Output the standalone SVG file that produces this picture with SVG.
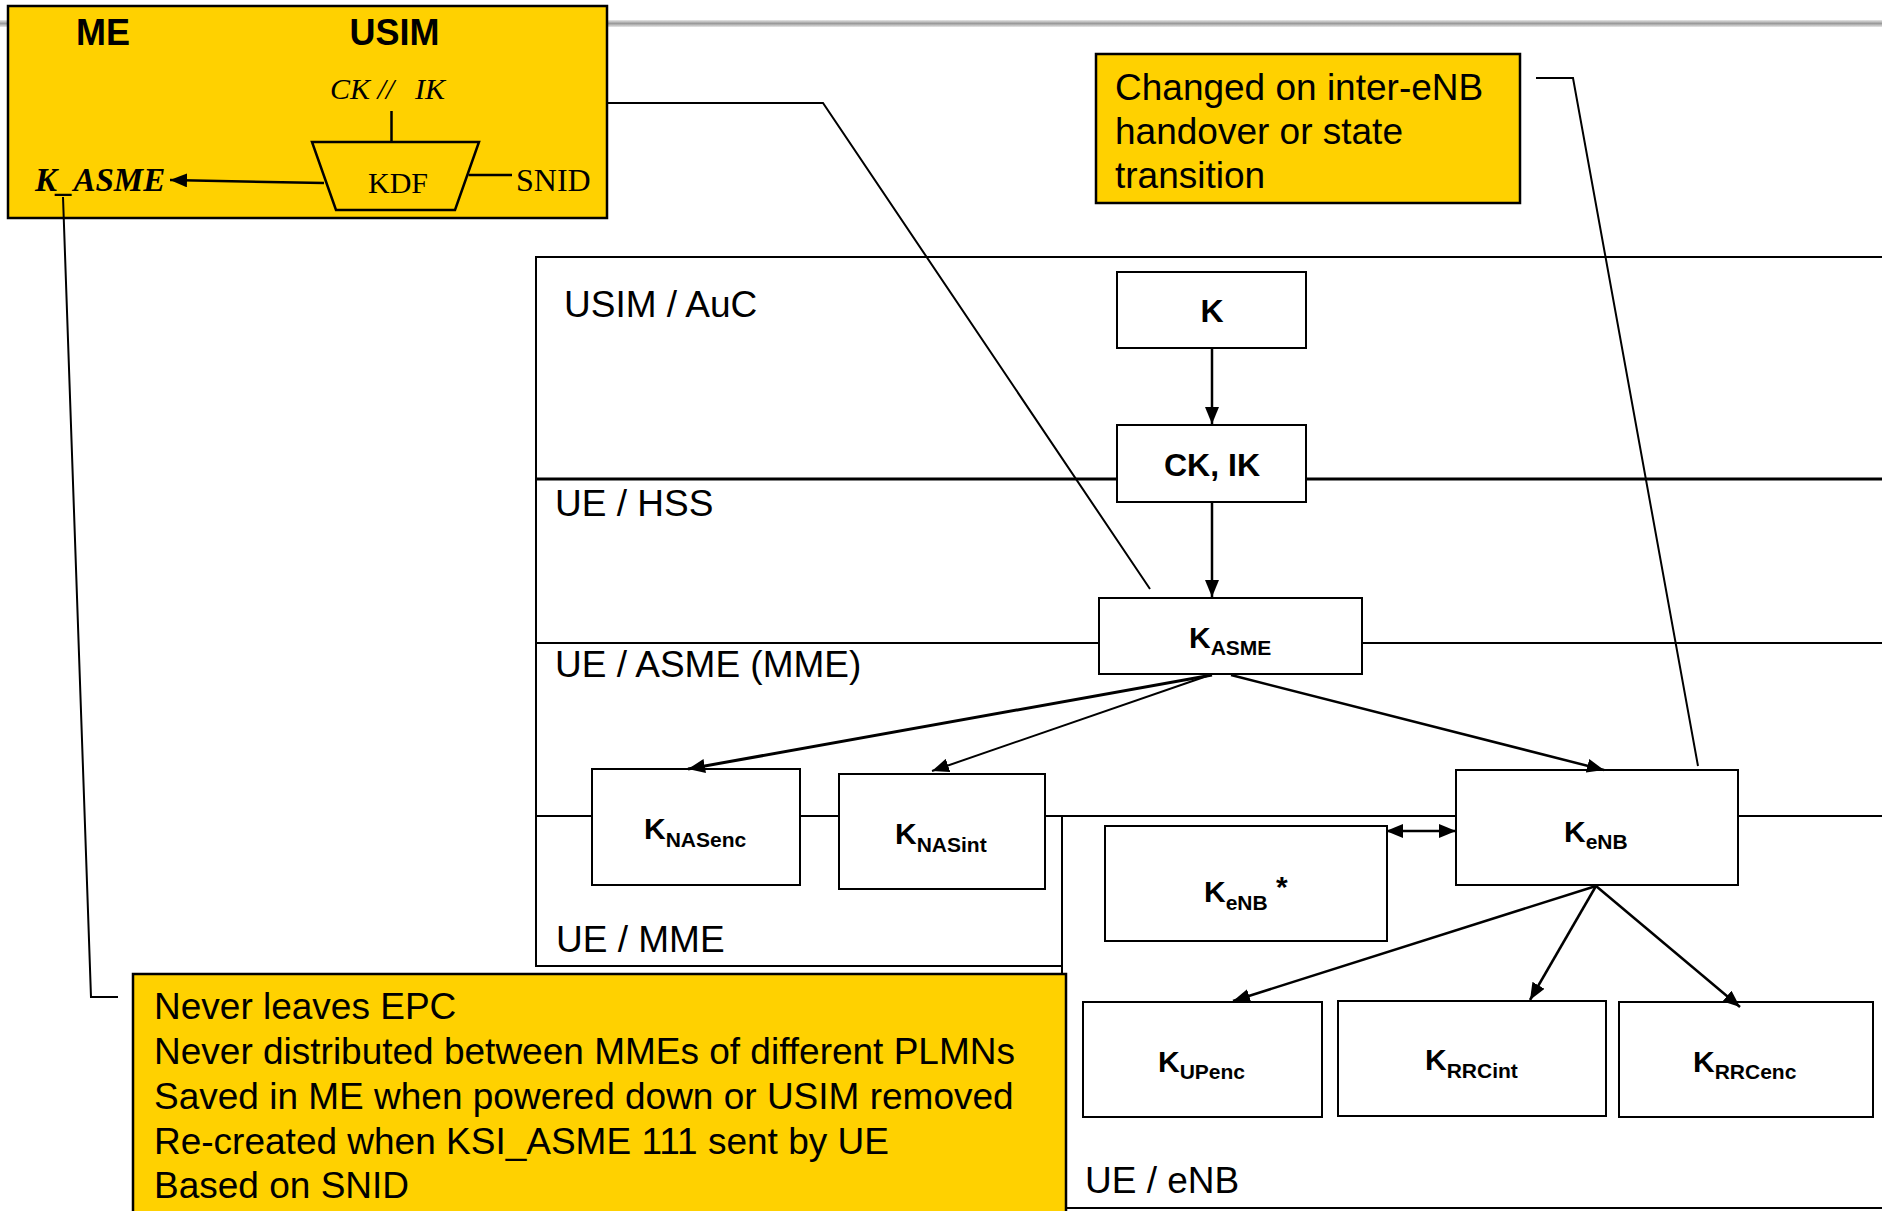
<svg xmlns="http://www.w3.org/2000/svg" width="1882" height="1211" viewBox="0 0 1882 1211">
  <defs>
    <linearGradient id="rule" x1="0" y1="0" x2="0" y2="1">
      <stop offset="0" stop-color="#e6e6e6"/>
      <stop offset="0.5" stop-color="#9a9a9a"/>
      <stop offset="1" stop-color="#e6e6e6"/>
    </linearGradient>
    <marker id="arrow" markerUnits="userSpaceOnUse" markerWidth="17" markerHeight="14" refX="17" refY="7" orient="auto-start-reverse">
      <path d="M0,0 L17,7 L0,14 z" fill="#000"/>
    </marker>
  </defs>
  <style>
    .lane { stroke: #000; stroke-width: 2; fill: none; }
    .lane-thick { stroke: #000; stroke-width: 3; fill: none; }
    .box { fill: #fff; stroke: #000; stroke-width: 2; }
    .note { fill: #FFD100; stroke: #000; stroke-width: 2.5; }
    .edge { stroke: #000; stroke-width: 2.5; fill: none; }
    .edge-heavy { stroke-width: 3; }
    .edge-light { stroke-width: 2; }
    .leader { stroke: #000; stroke-width: 2; fill: none; }
    .lanetxt { font-family: "Liberation Sans", Arial, sans-serif; font-size: 37px; fill: #000; }
    .notetxt { font-family: "Liberation Sans", Arial, sans-serif; font-size: 37px; fill: #000; }
    .key { font-family: "Liberation Sans", Arial, sans-serif; font-size: 30px; font-weight: bold; fill: #000; }
    .key-lg { font-size: 32px; }
    .sub { font-size: 21px; }
    .hdr { font-family: "Liberation Sans", Arial, sans-serif; font-size: 36px; font-weight: bold; fill: #000; }
    .serif { font-family: "Liberation Serif", "Times New Roman", serif; font-size: 30px; fill: #000; }
    .serif-lg { font-size: 32px; }
    .formula { font-size: 33px; font-weight: bold; font-style: italic; }
  </style>

  <rect width="1882" height="1211" fill="#fff"/>
  <!-- page rule -->
  <rect x="0" y="20" width="1882" height="7" fill="url(#rule)"/>

  <!-- key hierarchy lanes -->
  <g id="lanes">
    <path class="lane" d="M1882,257 H536 V966 H1062"/>
    <path class="lane-thick" d="M536,479 H1118 M1306,479 H1882"/>
    <path class="lane" d="M536,643 H1099 M1362,643 H1882"/>
    <path class="lane" d="M536,816 H592 M800,816 H839 M1045,816 H1456 M1738,816 H1882"/>
    <path class="lane" d="M1062,816 V1208 H1882"/>
    <text class="lanetxt" x="564" y="317">USIM / AuC</text>
    <text class="lanetxt" x="555" y="516">UE / HSS</text>
    <text class="lanetxt" x="555" y="677">UE / ASME (MME)</text>
    <text class="lanetxt" x="556" y="952">UE / MME</text>
    <text class="lanetxt" x="1085" y="1193">UE / eNB</text>
  </g>

  <!-- KDF derivation panel -->
  <g id="kdf-panel">
    <rect class="note" x="8" y="6" width="599" height="212"/>
    <text class="hdr" x="103" y="45" text-anchor="middle">ME</text>
    <text class="hdr" x="394.5" y="45" text-anchor="middle">USIM</text>
    <text class="serif" x="330" y="99" font-style="italic">CK //</text>
    <text class="serif" x="415" y="99" font-style="italic">IK</text>
    <path class="edge" d="M391.5,111 V142"/>
    <polygon points="312,142 479,142 455,210 336,210" fill="none" stroke="#000" stroke-width="2.5"/>
    <text class="serif" x="368" y="193">KDF</text>
    <path class="edge" d="M468.5,175 H512"/>
    <text class="serif serif-lg" x="516" y="191">SNID</text>
    <path class="edge" d="M324,183 L170,180" marker-end="url(#arrow)"/>
    <text class="serif formula" x="35" y="191">K_ASME</text>
  </g>

  <!-- note: KeNB change -->
  <g id="note-kenb">
    <rect class="note" x="1096" y="54" width="424" height="149"/>
    <text class="notetxt" x="1115" y="100">Changed on inter-eNB</text>
    <text class="notetxt" x="1115" y="144">handover or state</text>
    <text class="notetxt" x="1115" y="188">transition</text>
  </g>

  <!-- note: KASME properties -->
  <g id="note-kasme">
    <rect class="note" x="133" y="974" width="933" height="260"/>
    <text class="notetxt" x="154" y="1019">Never leaves EPC</text>
    <text class="notetxt" x="154" y="1064">Never distributed between MMEs of different PLMNs</text>
    <text class="notetxt" x="154" y="1109">Saved in ME when powered down or USIM removed</text>
    <text class="notetxt" x="154" y="1154">Re-created when KSI_ASME 111 sent by UE</text>
    <text class="notetxt" x="154" y="1198">Based on SNID</text>
  </g>

  <!-- key nodes -->
  <g id="node-k">
    <rect class="box" x="1117" y="272" width="189" height="76"/>
    <text class="key key-lg" x="1212" y="322" text-anchor="middle">K</text>
  </g>
  <g id="node-ckik">
    <rect class="box" x="1117" y="425" width="189" height="77"/>
    <text class="key key-lg" x="1212" y="476" text-anchor="middle">CK, IK</text>
  </g>
  <g id="node-kasme">
    <rect class="box" x="1099" y="598" width="263" height="76"/>
    <text class="key" x="1189" y="648">K<tspan class="sub" dy="7">ASME</tspan></text>
  </g>
  <g id="node-knasenc">
    <rect class="box" x="592" y="769" width="208" height="116"/>
    <text class="key" x="644" y="839">K<tspan class="sub" dy="8">NASenc</tspan></text>
  </g>
  <g id="node-knasint">
    <rect class="box" x="839" y="774" width="206" height="115"/>
    <text class="key" x="895" y="844">K<tspan class="sub" dy="8">NASint</tspan></text>
  </g>
  <g id="node-kenb-star">
    <rect class="box" x="1105" y="826" width="282" height="115"/>
    <text class="key" x="1204" y="902">K<tspan class="sub" dy="8">eNB</tspan></text>
    <text class="key" x="1276" y="897">*</text>
  </g>
  <g id="node-kenb">
    <rect class="box" x="1456" y="770" width="282" height="115"/>
    <text class="key" x="1564" y="842">K<tspan class="sub" dy="7">eNB</tspan></text>
  </g>
  <g id="node-kupenc">
    <rect class="box" x="1083" y="1002" width="239" height="115"/>
    <text class="key" x="1158" y="1072">K<tspan class="sub" dy="7">UPenc</tspan></text>
  </g>
  <g id="node-krrcint">
    <rect class="box" x="1338" y="1001" width="268" height="115"/>
    <text class="key" x="1425" y="1070">K<tspan class="sub" dy="8">RRCint</tspan></text>
  </g>
  <g id="node-krrcenc">
    <rect class="box" x="1619" y="1002" width="254" height="115"/>
    <text class="key" x="1693" y="1072">K<tspan class="sub" dy="7">RRCenc</tspan></text>
  </g>

  <!-- derivation arrows and callout leaders -->
  <g id="connectors">
    <path class="edge" d="M1212,348 V424" marker-end="url(#arrow)"/>
    <path class="edge" d="M1212,502 V597" marker-end="url(#arrow)"/>
    <path class="edge edge-heavy" d="M1212,675 L688,769" marker-end="url(#arrow)"/>
    <path class="edge edge-light" d="M1210,675 L932,771" marker-end="url(#arrow)"/>
    <path class="edge" d="M1231,675 L1604,770" marker-end="url(#arrow)"/>
    <path class="edge" d="M1386,831 H1456" marker-start="url(#arrow)" marker-end="url(#arrow)"/>
    <path class="edge" d="M1596,886 L1233,1001" marker-end="url(#arrow)"/>
    <path class="edge" d="M1596,886 L1530,1000" marker-end="url(#arrow)"/>
    <path class="edge" d="M1596,886 L1740,1007" marker-end="url(#arrow)"/>
    <path class="leader" d="M63,197 L91,997 H118"/>
    <path class="leader" d="M607,103 H823 L1150,589"/>
    <path class="leader" d="M1536,78 H1573 L1698,766"/>
  </g>
</svg>
